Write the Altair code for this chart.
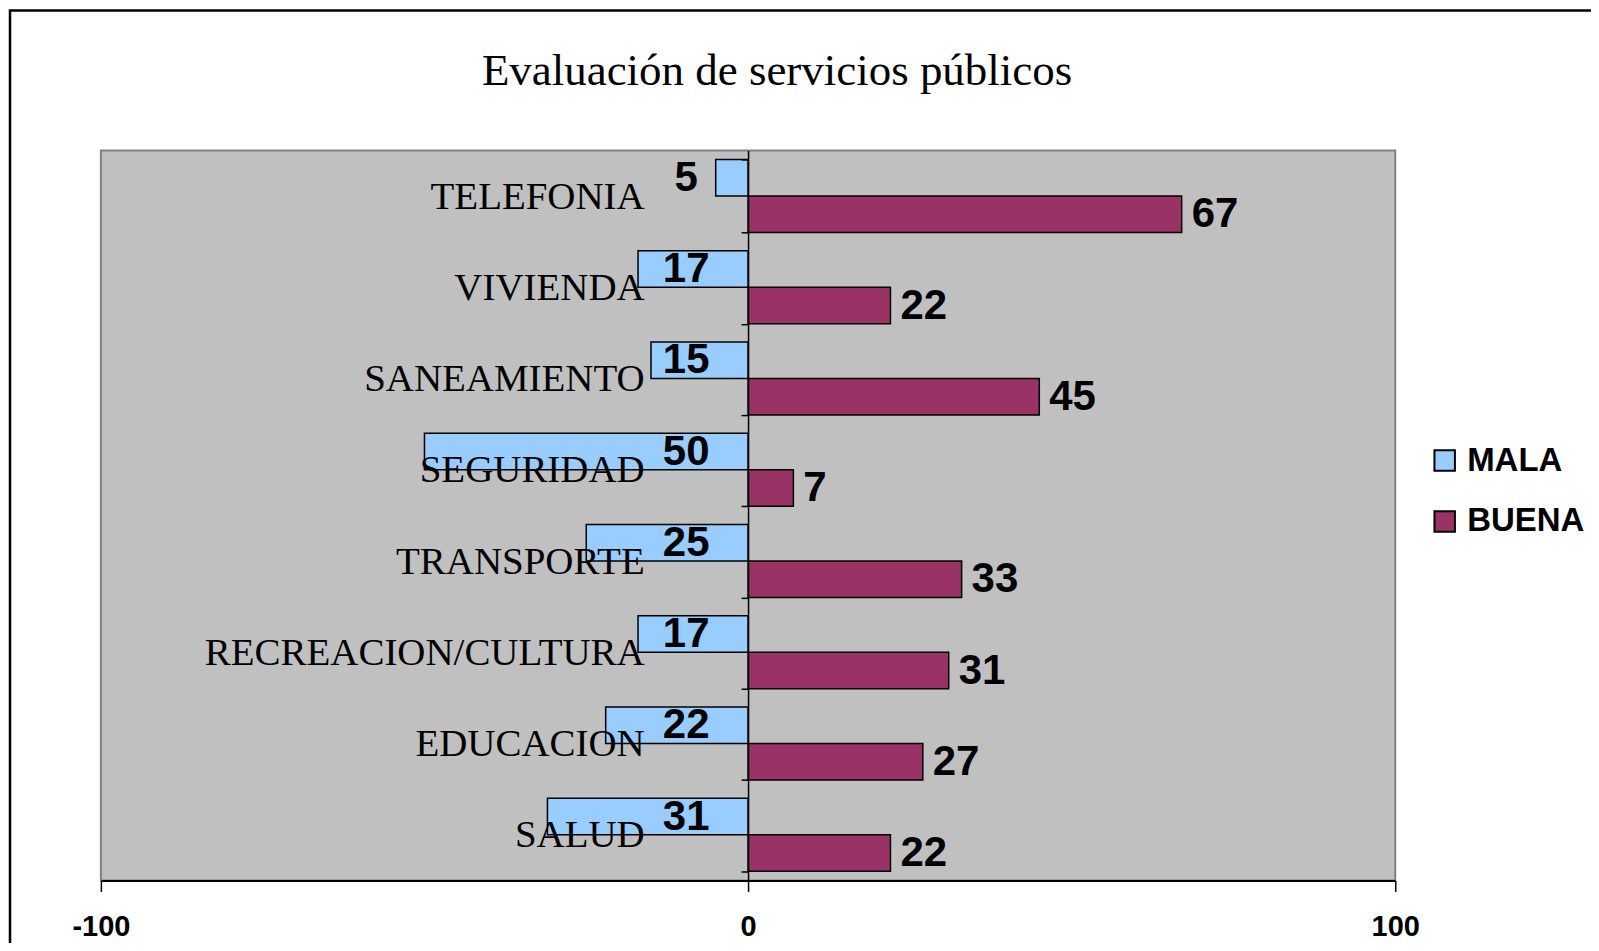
import altair as alt
import pandas as pd

categories = ["TELEFONIA", "VIVIENDA", "SANEAMIENTO", "SEGURIDAD", "TRANSPORTE",
              "RECREACION/CULTURA", "EDUCACION", "SALUD"]
mala = [5, 17, 15, 50, 25, 17, 22, 31]
buena = [67, 22, 45, 7, 33, 31, 27, 22]
series = ["MALA", "BUENA"]
colors = ["#99CCFF", "#993366"]
x_ticks = [-100, 0, 100]
title_text = "Evaluación de servicios públicos"

rows = []
for c, m, b in zip(categories, mala, buena):
    rows.append({"cat": c, "serie": "MALA", "val": -m, "label": str(m)})
    rows.append({"cat": c, "serie": "BUENA", "val": b, "label": str(b)})
df = pd.DataFrame(rows)

W, H = 1296, 731

y_enc = alt.Y("cat:N", sort=categories,
              scale=alt.Scale(paddingInner=0.2, paddingOuter=0.1),
              axis=alt.Axis(title=None, orient="left", offset=-W / 2,
                            domainColor="black", domainWidth=1.5,
                            tickColor="black", tickSize=7, tickWidth=1.5,
                            tickBand="extent",
                            labelFont="Liberation Serif", labelFontSize=39,
                            labelColor="black", labelPadding=97,
                            labelLimit=0, zindex=1))
yoff = alt.YOffset("serie:N", sort=series, scale=alt.Scale(domain=series, paddingInner=0))
x_scale = alt.Scale(domain=[-100, 100], nice=False)

bars = alt.Chart(df).mark_bar(stroke="black", strokeWidth=1.5, opacity=1).encode(
    x=alt.X("val:Q", scale=x_scale,
            axis=alt.Axis(values=x_ticks, title=None, grid=False,
                          domainColor="black", domainWidth=2,
                          tickColor="black", tickSize=11, tickWidth=1.5,
                          labelFont="Liberation Sans", labelFontSize=29,
                          labelFontWeight="bold", labelColor="black",
                          labelExpr="'' + datum.value",
                          labelPadding=21, labelFlush=False, labelOverlap=False)),
    y=y_enc,
    yOffset=yoff,
    color=alt.Color("serie:N", sort=series,
                    scale=alt.Scale(domain=series, range=colors),
                    legend=alt.Legend(title=None, orient="none",
                                      legendX=1329, legendY=294,
                                      symbolType="square", symbolSize=420,
                                      symbolStrokeColor="black", symbolStrokeWidth=2,
                                      symbolOpacity=1,
                                      labelFont="Liberation Sans", labelFontSize=33,
                                      labelFontWeight="bold", labelColor="black",
                                      rowPadding=27, labelOffset=6, padding=0)),
)

mala_labels = alt.Chart(df).transform_filter(alt.datum.serie == "MALA").mark_text(
    align="center", baseline="middle", dx=-62,
    font="Liberation Sans", fontSize=42, fontWeight="bold", color="black"
).encode(
    x=alt.datum(0, scale=x_scale),
    y=alt.Y("cat:N", sort=categories),
    yOffset=alt.YOffset("serie:N", sort=series),
    text="label:N",
)

buena_labels = alt.Chart(df).transform_filter(alt.datum.serie == "BUENA").mark_text(
    align="left", baseline="middle", dx=10,
    font="Liberation Sans", fontSize=42, fontWeight="bold", color="black"
).encode(
    x=alt.X("val:Q", scale=x_scale),
    y=alt.Y("cat:N", sort=categories),
    yOffset=alt.YOffset("serie:N", sort=series),
    text="label:N",
)

one = pd.DataFrame({"t": [title_text]})

frame = alt.Chart(one).mark_rect(
    fill="transparent", stroke="black", strokeWidth=2.5
).encode(
    x=alt.value(-91), x2=alt.value(1700),
    y=alt.value(-140), y2=alt.value(1000),
)

title = alt.Chart(one).mark_text(
    align="center", baseline="middle",
    font="Liberation Serif", fontSize=45, color="black"
).encode(
    x=alt.value(677), y=alt.value(-79), text="t:N"
)

chart = alt.layer(frame, title, bars, mala_labels, buena_labels).properties(
    width=W, height=H,
    background="white",
    autosize=alt.AutoSizeParams(type="none"),
    padding={"left": 93, "top": 142, "right": 196, "bottom": 62},
).configure_view(
    fill="#C0C0C0", stroke="#808080", strokeWidth=2
)

chart.save("out.html", embed_options={"renderer": "svg", "actions": False})
